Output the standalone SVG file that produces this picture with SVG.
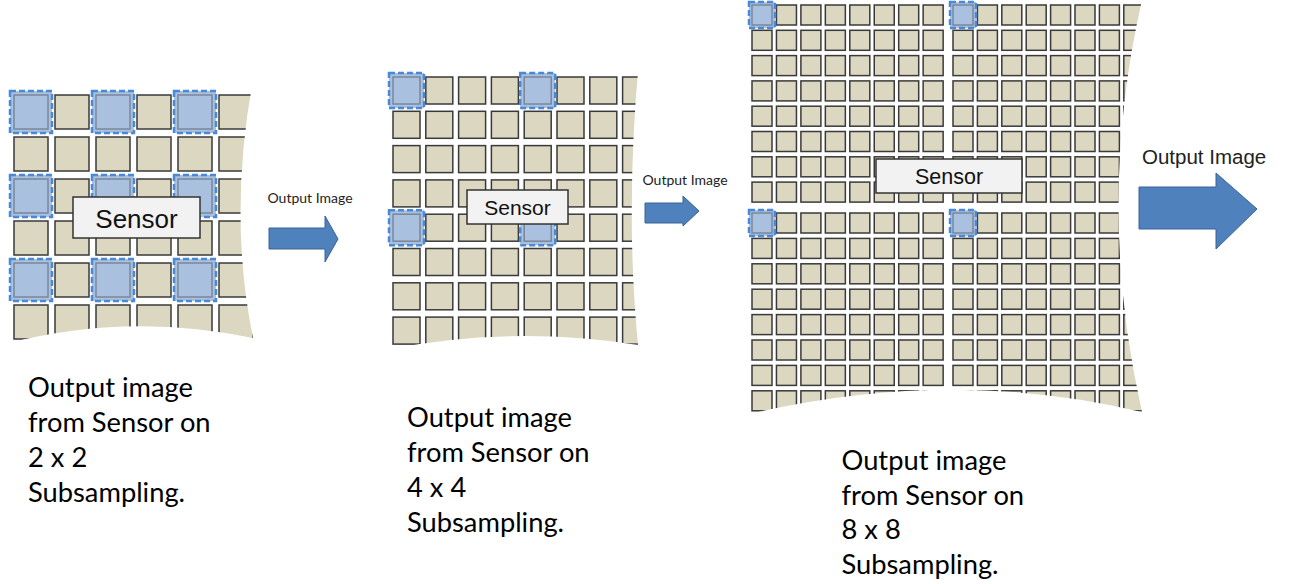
<svg xmlns="http://www.w3.org/2000/svg" xmlns:xlink="http://www.w3.org/1999/xlink" width="1289" height="584" viewBox="0 0 1289 584">
<defs>
<style>
.cell{fill:#dcd7c1;stroke:#3a3a3a;stroke-width:1.5}
.sel{fill:#a9c0de;stroke:#4a88d8;stroke-width:2.5;stroke-dasharray:6 3}
.selin{fill:none;stroke:#7a879a;stroke-width:1.5}
.sensor{fill:#f2f2f2;stroke:#333;stroke-width:1.5}
.stxt{font-family:"Liberation Sans",Arial,sans-serif;fill:#111;text-anchor:middle}
.cap{font-family:Lato,"Liberation Sans",sans-serif;font-size:27.3px;fill:#000}
.arr{fill:#4f81bd;stroke:#3a6397;stroke-width:1}
.alab{font-family:Lato,"Liberation Sans",sans-serif;font-size:14px;fill:#222}
</style>
<clipPath id="c1"><path d="M0 80 L253 80 Q228 215 253 338 Q131 312 8 343 L0 343 Z"/></clipPath>
<clipPath id="c2"><path d="M380 60 L639 60 Q625 210 638 345 Q510 325 385 350 Z"/></clipPath>
<clipPath id="c3"><path d="M740 0 L1142 0 Q1095 205 1142 412 Q950 366 745 415 Z"/></clipPath>
<g id="row1">
<rect class="cell" x="14" y="0" width="34" height="34"/><rect class="cell" x="55" y="0" width="34" height="34"/><rect class="cell" x="96" y="0" width="34" height="34"/><rect class="cell" x="137" y="0" width="34" height="34"/><rect class="cell" x="178" y="0" width="34" height="34"/><rect class="cell" x="219" y="0" width="34" height="34"/>
</g>
<g id="row2">
<rect class="cell" x="393" y="0" width="27" height="27"/><rect class="cell" x="425.8" y="0" width="27" height="27"/><rect class="cell" x="458.6" y="0" width="27" height="27"/><rect class="cell" x="491.4" y="0" width="27" height="27"/><rect class="cell" x="524.2" y="0" width="27" height="27"/><rect class="cell" x="557" y="0" width="27" height="27"/><rect class="cell" x="589.8" y="0" width="27" height="27"/><rect class="cell" x="622.6" y="0" width="27" height="27"/>
</g>
<g id="row3">
<rect class="cell" x="752" y="0" width="20" height="20"/><rect class="cell" x="776.45" y="0" width="20" height="20"/><rect class="cell" x="800.9" y="0" width="20" height="20"/><rect class="cell" x="825.35" y="0" width="20" height="20"/><rect class="cell" x="849.8" y="0" width="20" height="20"/><rect class="cell" x="874.25" y="0" width="20" height="20"/><rect class="cell" x="898.7" y="0" width="20" height="20"/><rect class="cell" x="923.15" y="0" width="20" height="20"/>
<rect class="cell" x="953" y="0" width="20" height="20"/><rect class="cell" x="977.4" y="0" width="20" height="20"/><rect class="cell" x="1001.8" y="0" width="20" height="20"/><rect class="cell" x="1026.2" y="0" width="20" height="20"/><rect class="cell" x="1050.6" y="0" width="20" height="20"/><rect class="cell" x="1075" y="0" width="20" height="20"/><rect class="cell" x="1099.4" y="0" width="20" height="20"/><rect class="cell" x="1123.8" y="0" width="20" height="20"/>
</g>
</defs>
<rect width="1289" height="584" fill="#fff"/>

<g id="sensor-2x2">
<g clip-path="url(#c1)">
<use xlink:href="#row1" y="95"/><use xlink:href="#row1" y="137"/><use xlink:href="#row1" y="179"/><use xlink:href="#row1" y="221"/><use xlink:href="#row1" y="263"/><use xlink:href="#row1" y="305"/>
<rect class="sel" x="10" y="91" width="42" height="42"/><rect class="selin" x="14" y="95" width="34" height="34"/>
<rect class="sel" x="92" y="91" width="42" height="42"/><rect class="selin" x="96" y="95" width="34" height="34"/>
<rect class="sel" x="174" y="91" width="42" height="42"/><rect class="selin" x="178" y="95" width="34" height="34"/>
<rect class="sel" x="10" y="175" width="42" height="42"/><rect class="selin" x="14" y="179" width="34" height="34"/>
<rect class="sel" x="92" y="175" width="42" height="42"/><rect class="selin" x="96" y="179" width="34" height="34"/>
<rect class="sel" x="174" y="175" width="42" height="42"/><rect class="selin" x="178" y="179" width="34" height="34"/>
<rect class="sel" x="10" y="259" width="42" height="42"/><rect class="selin" x="14" y="263" width="34" height="34"/>
<rect class="sel" x="92" y="259" width="42" height="42"/><rect class="selin" x="96" y="263" width="34" height="34"/>
<rect class="sel" x="174" y="259" width="42" height="42"/><rect class="selin" x="178" y="263" width="34" height="34"/>
</g>
<rect class="sensor" x="73" y="197" width="127" height="41"/>
<text class="stxt" x="136.5" y="228" font-size="26">Sensor</text>
</g>

<g id="sensor-4x4">
<g clip-path="url(#c2)">
<use xlink:href="#row2" y="77"/><use xlink:href="#row2" y="111.3"/><use xlink:href="#row2" y="145.6"/><use xlink:href="#row2" y="179.9"/><use xlink:href="#row2" y="214.2"/><use xlink:href="#row2" y="248.5"/><use xlink:href="#row2" y="282.8"/><use xlink:href="#row2" y="317.1"/>
<rect class="sel" x="389" y="73" width="35" height="35"/><rect class="selin" x="393" y="77" width="27" height="27"/>
<rect class="sel" x="520.2" y="73" width="35" height="35"/><rect class="selin" x="524.2" y="77" width="27" height="27"/>
<rect class="sel" x="389" y="210.2" width="35" height="35"/><rect class="selin" x="393" y="214.2" width="27" height="27"/>
<rect class="sel" x="520.2" y="210.2" width="35" height="35"/><rect class="selin" x="524.2" y="214.2" width="27" height="27"/>
</g>
<rect class="sensor" x="467" y="190" width="101" height="34"/>
<text class="stxt" x="517.5" y="215" font-size="21">Sensor</text>
</g>

<g id="sensor-8x8">
<g clip-path="url(#c3)">
<use xlink:href="#row3" y="5"/><use xlink:href="#row3" y="30.3"/><use xlink:href="#row3" y="55.6"/><use xlink:href="#row3" y="80.9"/><use xlink:href="#row3" y="106.2"/><use xlink:href="#row3" y="131.5"/><use xlink:href="#row3" y="156.8"/><use xlink:href="#row3" y="182.1"/>
<use xlink:href="#row3" y="213"/><use xlink:href="#row3" y="238.4"/><use xlink:href="#row3" y="263.8"/><use xlink:href="#row3" y="289.2"/><use xlink:href="#row3" y="314.6"/><use xlink:href="#row3" y="340"/><use xlink:href="#row3" y="365.4"/><use xlink:href="#row3" y="390.8"/>
<rect class="sel" x="749" y="2" width="26" height="26"/><rect class="selin" x="752" y="5" width="20" height="20"/>
<rect class="sel" x="950" y="2" width="26" height="26"/><rect class="selin" x="953" y="5" width="20" height="20"/>
<rect class="sel" x="749" y="210" width="26" height="26"/><rect class="selin" x="752" y="213" width="20" height="20"/>
<rect class="sel" x="950" y="210" width="26" height="26"/><rect class="selin" x="953" y="213" width="20" height="20"/>
</g>
<rect class="sensor" x="876" y="159" width="146" height="34"/>
<text class="stxt" x="949" y="184" font-size="21.5">Sensor</text>
</g>

<g id="connectors">
<g id="arrow1">
<text class="alab" x="267.5" y="203">Output Image</text>
<path class="arr" d="M269 228 L325 228 L325 216 L338 239 L325 262 L325 249 L269 249 Z"/>
</g>
<g id="arrow2">
<text class="alab" x="642.5" y="185">Output Image</text>
<path class="arr" d="M645 203 L683 203 L683 196 L699 211 L683 226 L683 223 L645 223 Z"/>
</g>
<g id="arrow3">
<text x="1142" y="164" font-family="Liberation Sans, Arial, sans-serif" font-size="20.5" fill="#222">Output Image</text>
<path class="arr" d="M1139 187 L1216 187 L1216 173 L1257 209 L1216 249 L1216 229 L1139 229 Z"/>
</g>
</g>

<g id="caption1">
<text class="cap" x="28" y="396.7">Output image</text>
<text class="cap" x="28" y="431.7">from Sensor on</text>
<text class="cap" x="28" y="466.7">2 x 2</text>
<text class="cap" x="28" y="501.7">Subsampling.</text>
</g>
<g id="caption2">
<text class="cap" x="407" y="426.7">Output image</text>
<text class="cap" x="407" y="461.7">from Sensor on</text>
<text class="cap" x="407" y="496.7">4 x 4</text>
<text class="cap" x="407" y="531.7">Subsampling.</text>
</g>
<g id="caption3">
<text class="cap" x="841.5" y="470">Output image</text>
<text class="cap" x="841.5" y="504.5">from Sensor on</text>
<text class="cap" x="841.5" y="539">8 x 8</text>
<text class="cap" x="841.5" y="573.5">Subsampling.</text>
</g>
</svg>
